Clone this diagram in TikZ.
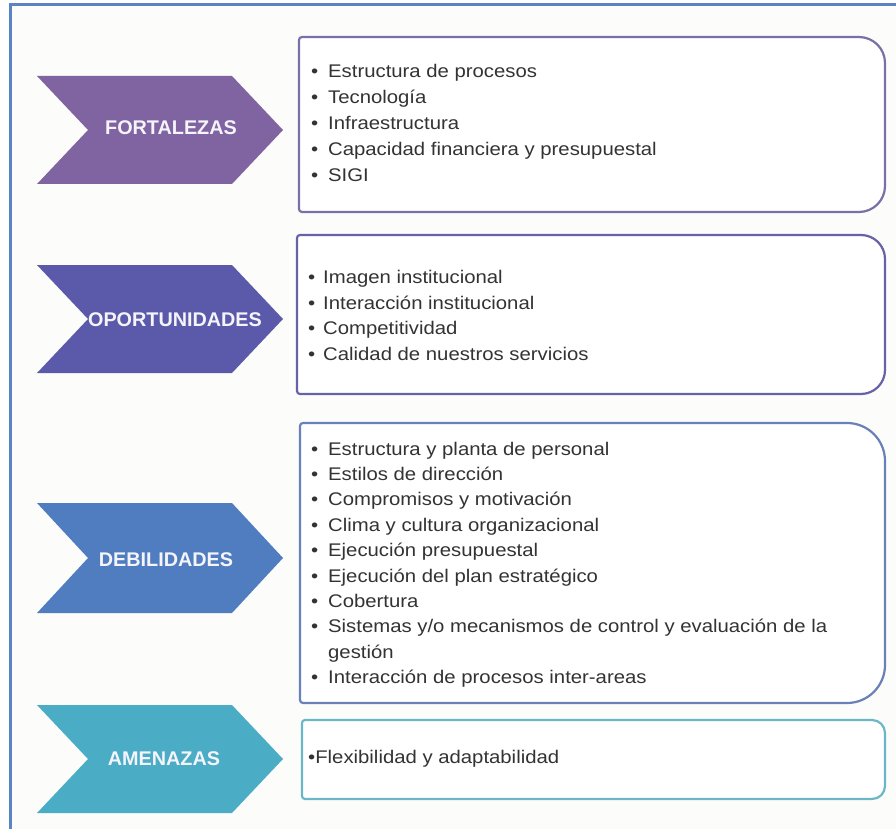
\documentclass[tikz,border=0pt]{standalone}
\usepackage{fontspec}
\setmainfont{Liberation Sans}
\newfontfamily\itemfont{Liberation Sans}[FakeStretch=1.11]
\newfontfamily\labelfont{Liberation Sans}
\definecolor{framecol}{HTML}{5A85C5}
\definecolor{bgcol}{HTML}{FCFCFA}
\definecolor{chevA}{HTML}{8064A2}
\definecolor{chevB}{HTML}{5B5AAA}
\definecolor{chevC}{HTML}{4F7DC0}
\definecolor{chevD}{HTML}{4BACC6}
\definecolor{boxA}{HTML}{7B6FA8}
\definecolor{boxB}{HTML}{6662AA}
\definecolor{boxC}{HTML}{6A80B8}
\definecolor{boxD}{HTML}{6BB7C7}
\definecolor{textgray}{HTML}{333333}
\definecolor{lbltext}{HTML}{F4F4FA}
\newcommand{\sidebox}[6]{%
  \pgfmathsetmacro\kr{0.4477*#5}%
  \draw[boxline,draw=#6] (#1+3,#2) -- (#3-#5,#2)
    .. controls (#3-\kr,#2) and (#3,#2+\kr) .. (#3,#2+#5)
    -- (#3,#4-#5)
    .. controls (#3,#4-\kr) and (#3-\kr,#4) .. (#3-#5,#4)
    -- (#1+3,#4)
    .. controls (#1+1.3,#4) and (#1,#4-1.3) .. (#1,#4-3)
    -- (#1,#2+3)
    .. controls (#1,#2+1.3) and (#1+1.3,#2) .. (#1+3,#2) -- cycle;
}
\newcommand{\chevshape}[3]{% top, bottom, fill
  \pgfmathsetmacro\cy{(#1+#2)/2}%
  \fill[#3] (37,#1) -- (232,#1) -- (283,\cy) -- (232,#2) -- (37,#2) -- (88,\cy) -- cycle;
}
\begin{document}
\begin{tikzpicture}[x=1pt,y=-1pt,
  boxline/.style={line width=2.2pt, fill=white, line join=round},
  item/.style={anchor=base west, inner sep=0pt, text=textgray,
    font=\itemfont\fontsize{18.3}{26}\selectfont},
  lbl/.style={anchor=base, inner sep=0pt, text=lbltext,
    font=\labelfont\bfseries\fontsize{19.8}{23}\selectfont}]
\useasboundingbox (0,0) rectangle (896,829);
\fill[white] (0,0) rectangle (896,829);
\fill[bgcol] (10,5) rectangle (896,829);
\draw[framecol, line width=3pt] (10,829) -- (10,5) -- (896,5);

% chevrons
\chevshape{76}{184}{chevA}
\chevshape{265}{373}{chevB}
\chevshape{503}{613}{chevC}
\chevshape{705}{813}{chevD}
\node[lbl] (fort) at (171,135) {FORTALEZAS};
\node[lbl] (opor) at (175,326) {OPORTUNIDADES};
\node[lbl] (debi) at (166,566) {DEBILIDADES};
\node[lbl] (amen) at (164,765) {AMENAZAS};

% boxes
\sidebox{299}{37}{885}{212}{26}{boxA}
\sidebox{297}{235}{885}{394}{24}{boxB}
\sidebox{300}{423}{885}{703}{38}{boxC}
\sidebox{302}{720}{885}{799}{13}{boxD}

% box 1 items
\node[item] (f1) at (311,78)  {\makebox[17pt][l]{•}Estructura de procesos};
\node[item] (f2) at (311,104) {\makebox[17pt][l]{•}Tecnología};
\node[item] (f3) at (311,130) {\makebox[17pt][l]{•}Infraestructura};
\node[item] (f4) at (311,156) {\makebox[17pt][l]{•}Capacidad financiera y presupuestal};
\node[item] (f5) at (311,182) {\makebox[17pt][l]{•}SIGI};

% box 2 items
\node[item] (o1) at (308,283.5) {\makebox[15pt][l]{•}Imagen institucional};
\node[item] (o2) at (308,309)   {\makebox[15pt][l]{•}Interacción institucional};
\node[item] (o3) at (308,334.5) {\makebox[15pt][l]{•}Competitividad};
\node[item] (o4) at (308,360)   {\makebox[15pt][l]{•}Calidad de nuestros servicios};

% box 3 items
\node[item] (d1) at (311,455)   {\makebox[17pt][l]{•}Estructura y planta de personal};
\node[item] (d2) at (311,480.4) {\makebox[17pt][l]{•}Estilos de dirección};
\node[item] (d3) at (311,505.8) {\makebox[17pt][l]{•}Compromisos y motivación};
\node[item] (d4) at (311,531.2) {\makebox[17pt][l]{•}Clima y cultura organizacional};
\node[item] (d5) at (311,556.6) {\makebox[17pt][l]{•}Ejecución presupuestal};
\node[item] (d6) at (311,582)   {\makebox[17pt][l]{•}Ejecución del plan estratégico};
\node[item] (d7) at (311,607.4) {\makebox[17pt][l]{•}Cobertura};
\node[item] (d8) at (311,632.8) {\makebox[17pt][l]{•}Sistemas y/o mecanismos de control y evaluación de la};
\node[item] (d8b) at (328,658.2) {gestión};
\node[item] (d9) at (311,683.6) {\makebox[17pt][l]{•}Interacción de procesos inter-areas};

% box 4 item
\node[item] (a1) at (308,763) {•Flexibilidad y adaptabilidad};
\end{tikzpicture}
\end{document}
